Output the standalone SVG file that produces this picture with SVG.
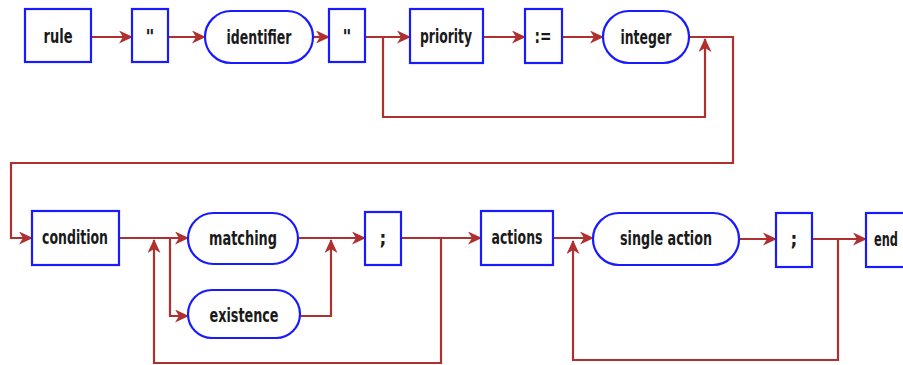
<svg xmlns="http://www.w3.org/2000/svg" width="903" height="365" viewBox="0 0 903 365">
<defs>
<marker id="ah" viewBox="0 0 14 13" refX="13" refY="6.5" markerWidth="14" markerHeight="13" markerUnits="userSpaceOnUse" orient="auto">
<path d="M0,0 L14,6.5 L0,13 L4,6.5 z" fill="#b03030"/>
</marker>
<style>
.n{fill:#fff;stroke:#1a1aff;stroke-width:2.2}
.t{font-family:"DejaVu Sans Condensed","DejaVu Sans",sans-serif;font-weight:bold;font-size:19px;fill:#1a1a1a;text-anchor:middle}
.c path{fill:none;stroke:#b03030;stroke-width:2.2}
.a{marker-end:url(#ah)}
</style>
</defs>
<rect width="903" height="365" fill="#fff"/>
<g class="c" id="connectors">
<path class="a" d="M91,37 H132"/>
<path class="a" d="M168,37 H205"/>
<path class="a" d="M313,37 H329"/>
<path class="a" d="M365,37 H410"/>
<path class="a" d="M483,37 H525"/>
<path class="a" d="M562,37 H603"/>
<path class="a" d="M383,37 V117 H705 V39"/>
<path class="a" d="M689,37 H733 V163 H11 V238 H32"/>
<path class="a" d="M119,238 H188"/>
<path class="a" d="M170,238 V316 H188"/>
<path class="a" d="M298,238 H365"/>
<path class="a" d="M300,316 H331 V240"/>
<path class="a" d="M401,238 H481"/>
<path class="a" d="M441,238 V363 H154 V240"/>
<path class="a" d="M553,238 H593"/>
<path class="a" d="M739,239 H776"/>
<path class="a" d="M812,239 H866"/>
<path class="a" d="M838,239 V360 H573 V241"/>
</g>
<g id="rule"><rect class="n" x="25" y="9" width="66" height="53"/><text class="t" x="58" y="43" textLength="29" lengthAdjust="spacingAndGlyphs">rule</text></g>
<g id="quote1"><rect class="n" x="132" y="9" width="36" height="53"/><text class="t" x="150" y="43">"</text></g>
<g id="identifier"><rect class="n" x="205" y="11" width="108" height="52" rx="26"/><text class="t" x="259" y="44" textLength="65" lengthAdjust="spacingAndGlyphs">identifier</text></g>
<g id="quote2"><rect class="n" x="329" y="9" width="36" height="53"/><text class="t" x="347" y="43">"</text></g>
<g id="priority"><rect class="n" x="410" y="9" width="73" height="54"/><text class="t" x="446" y="43" textLength="52" lengthAdjust="spacingAndGlyphs">priority</text></g>
<g id="assign"><rect class="n" x="525" y="9" width="37" height="54"/><text class="t" x="543" y="43" textLength="17" lengthAdjust="spacingAndGlyphs">:=</text></g>
<g id="integer"><rect class="n" x="603" y="11" width="86" height="52" rx="26"/><text class="t" x="646" y="44" textLength="51" lengthAdjust="spacingAndGlyphs">integer</text></g>
<g id="condition"><rect class="n" x="32" y="211" width="87" height="54"/><text class="t" x="75" y="244" textLength="66" lengthAdjust="spacingAndGlyphs">condition</text></g>
<g id="matching"><rect class="n" x="188" y="213" width="110" height="51" rx="25.5"/><text class="t" x="243" y="245" textLength="68" lengthAdjust="spacingAndGlyphs">matching</text></g>
<g id="existence"><rect class="n" x="188" y="290" width="112" height="48" rx="24"/><text class="t" x="244" y="322" textLength="69" lengthAdjust="spacingAndGlyphs">existence</text></g>
<g id="semi1"><rect class="n" x="365" y="212" width="36" height="53"/><text class="t" x="383" y="245">;</text></g>
<g id="actions"><rect class="n" x="481" y="211" width="72" height="54"/><text class="t" x="517" y="244" textLength="51" lengthAdjust="spacingAndGlyphs">actions</text></g>
<g id="single-action"><rect class="n" x="593" y="213" width="146" height="52" rx="26"/><text class="t" x="666" y="245" textLength="92" lengthAdjust="spacingAndGlyphs">single action</text></g>
<g id="semi2"><rect class="n" x="776" y="213" width="36" height="54"/><text class="t" x="794" y="246">;</text></g>
<g id="end"><rect class="n" x="866" y="213" width="60" height="54"/><text class="t" x="874" y="246" style="text-anchor:start" textLength="24" lengthAdjust="spacingAndGlyphs">end</text></g>
</svg>
